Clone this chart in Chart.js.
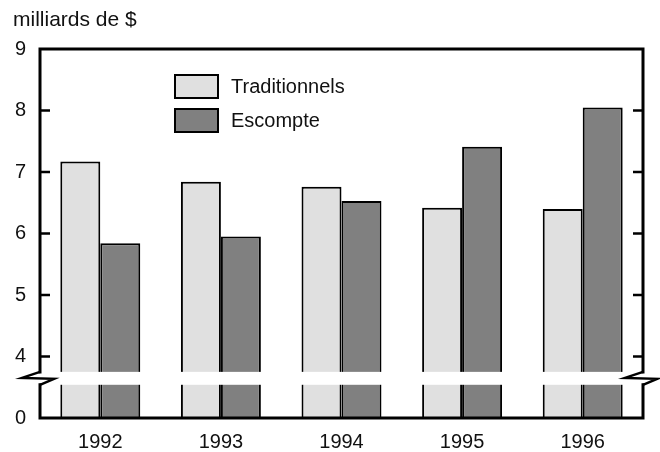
<!DOCTYPE html>
<html>
<head>
<meta charset="utf-8">
<script src="https://cdn.jsdelivr.net/npm/chart.js@4"></script>
<style>
  html, body { margin: 0; padding: 0; background: #fff; }
  #wrap { width: 660px; height: 452px; }
</style>
</head>
<body>
<div id="wrap"><canvas id="myChart"></canvas></div>
<script>
var years = ['1992', '1993', '1994', '1995', '1996'];
var traditionnels = [7.17, 6.84, 6.76, 6.42, 6.40];
var escompte = [5.84, 5.95, 6.53, 7.41, 8.05];
var seriesNames = ['Traditionnels', 'Escompte'];
var unitLabel = 'milliards de $';

var FONT = '"Liberation Sans", Arial, sans-serif';
var lightGrey = '#e0e0e0';
var darkGrey = '#808080';

// broken axis: bottom of scale (3) is shown as 0
var brokenAxis = {
    id: 'brokenAxis',
    afterDraw: function(chart) {
        var c = chart.ctx;
        var a = chart.chartArea;
        var y = chart.scales.y;
        var gapTop = y.getPixelForValue(3.75);
        var gapBot = y.getPixelForValue(3.54);
        c.save();
        c.fillStyle = '#fff';
        c.fillRect(a.left + 2, gapTop, a.right - a.left - 4, gapBot - gapTop);

        c.strokeStyle = '#000';
        c.lineWidth = 3;
        c.lineCap = 'square';
        c.beginPath();
        c.moveTo(a.left, gapTop); c.lineTo(a.left, a.top); c.lineTo(a.right, a.top); c.lineTo(a.right, gapTop);
        c.moveTo(a.left, gapBot); c.lineTo(a.left, a.bottom); c.lineTo(a.right, a.bottom); c.lineTo(a.right, gapBot);
        c.stroke();

        // ticks inward, both sides
        c.lineWidth = 2.5;
        c.lineCap = 'butt';
        c.beginPath();
        for (var v = 4; v <= 8; v++) {
            var py = y.getPixelForValue(v);
            c.moveTo(a.left, py); c.lineTo(a.left + 10, py);
            c.moveTo(a.right, py); c.lineTo(a.right - 10, py);
        }
        c.stroke();

        // zigzag break marks
        c.lineWidth = 2.5;
        c.lineJoin = 'miter';
        [a.left, a.right].forEach(function(x) {
            c.beginPath();
            c.moveTo(x, gapTop);
            c.lineTo(x - 18, gapTop + 6);
            c.lineTo(x + 14, gapTop + 7);
            c.lineTo(x, gapBot);
            c.stroke();
        });

        // unit label
        c.fillStyle = '#111';
        c.font = '21px ' + FONT;
        c.textAlign = 'left';
        c.textBaseline = 'middle';
        c.fillText(unitLabel, 13, 20);

        // legend
        c.font = '20px ' + FONT;
        var colors = [lightGrey, darkGrey];
        var boxY = [75, 109];
        c.lineWidth = 2;
        for (var i = 0; i < seriesNames.length; i++) {
            c.fillStyle = colors[i];
            c.fillRect(175, boxY[i], 43, 23);
            c.strokeStyle = '#000';
            c.strokeRect(175, boxY[i], 43, 23);
            c.fillStyle = '#111';
            c.fillText(seriesNames[i], 231, boxY[i] + 12);
        }
        c.restore();
    }
};

var ctx = document.getElementById('myChart').getContext('2d');
var myChart = new Chart(ctx, {
    type: 'bar',
    data: {
        labels: years,
        datasets: [{
            label: seriesNames[0],
            data: traditionnels,
            backgroundColor: lightGrey,
            borderColor: '#000',
            borderWidth: 2,
            borderSkipped: 'bottom'
        }, {
            label: seriesNames[1],
            data: escompte,
            backgroundColor: darkGrey,
            borderColor: '#000',
            borderWidth: 2,
            borderSkipped: 'bottom'
        }]
    },
    options: {
        responsive: true,
        maintainAspectRatio: false,
        animation: false,
        layout: {
            padding: { top: 49, right: 17, left: 0, bottom: 0 }
        },
        datasets: {
            bar: {
                barPercentage: 1,
                categoryPercentage: 0.663
            }
        },
        plugins: {
            legend: { display: false },
            tooltip: { enabled: false }
        },
        scales: {
            x: {
                grid: { display: false, drawTicks: false },
                border: { display: false },
                ticks: {
                    color: '#111',
                    padding: 12,
                    font: { family: FONT, size: 20 }
                },
                afterFit: function(s) { s.height = 34; }
            },
            y: {
                min: 3,
                max: 9,
                grid: { display: false, drawTicks: false },
                border: { display: false },
                ticks: {
                    stepSize: 1,
                    color: '#111',
                    padding: 14,
                    font: { family: FONT, size: 20 },
                    callback: function(value) { return value === 3 ? '0' : value; }
                },
                afterFit: function(s) { s.width = 40; }
            }
        }
    },
    plugins: [brokenAxis]
});
</script>
</body>
</html>
